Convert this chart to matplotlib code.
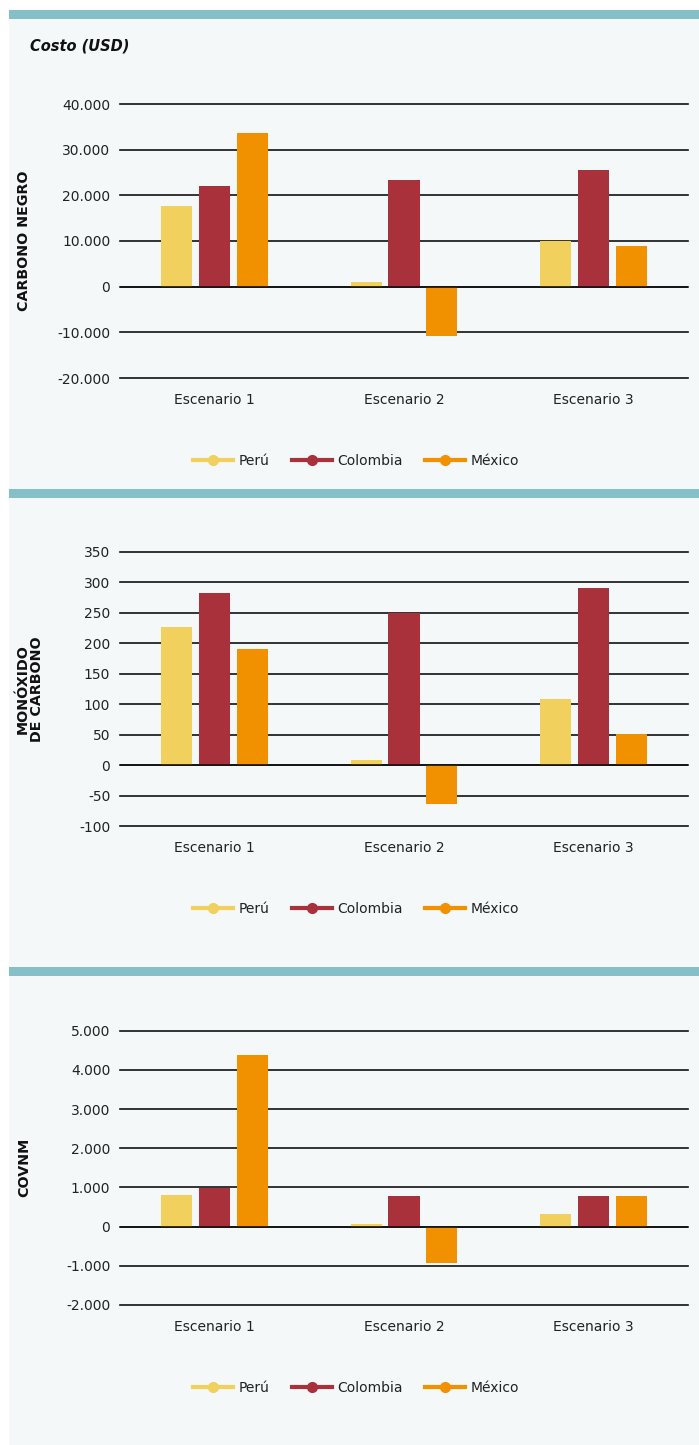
import numpy as np
import matplotlib.pyplot as plt
from matplotlib.lines import Line2D
from matplotlib.patches import Rectangle

escenarios = ["Escenario 1", "Escenario 2", "Escenario 3"]
paises = ["Perú", "Colombia", "México"]
colores = ["#f2d05e", "#a8313c", "#f29100"]

# valores por pais (Perú, Colombia, México) para cada escenario
carbono_negro = [[17700, 1100, 9900],
                 [22100, 23400, 25600],
                 [33700, -10700, 8800]]
monoxido = [[226, 8, 108],
            [282, 249, 290],
            [190, -64, 51]]
covnm = [[810, 70, 320],
         [995, 780, 780],
         [4380, -920, 780]]

paneles = [
    ("CARBONO NEGRO", carbono_negro, [-20000, -10000, 0, 10000, 20000, 30000, 40000]),
    ("MONÓXIDO\nDE CARBONO", monoxido, [-100, -50, 0, 50, 100, 150, 200, 250, 300, 350]),
    ("COVNM", covnm, [-2000, -1000, 0, 1000, 2000, 3000, 4000, 5000]),
]

W, H = 699, 1445
fig = plt.figure(figsize=(W / 100, H / 100), dpi=100)
fig.patch.set_facecolor("white")
bg = "#f4f8f9"
teal = "#85bfc8"
fig.patches.append(Rectangle((9 / W, 0), 1 - 9 / W, 1 - 10 / H, transform=fig.transFigure,
                             facecolor=bg, edgecolor="none", zorder=-10))
for top in [10, 489, 967]:
    fig.patches.append(Rectangle((9 / W, 1 - (top + 8.5) / H), 1 - 9 / W, 8.5 / H,
                                 transform=fig.transFigure, facecolor=teal,
                                 edgecolor="none", zorder=-5))

fig.text(30 / W, 1 - 46 / H, "Costo (USD)", fontsize=10.5, fontweight="bold",
         fontstyle="italic", va="center", ha="left", color="#111111")

# (top px, bottom px, ylabel x px, legend y px)
geom = [(104, 378, 24, 461), (551.7, 826, 30, 909), (1030.7, 1305, 24, 1388)]

def fmt(v):
    return f"{int(v):,}".replace(",", ".")

x = np.arange(len(escenarios))
for (label, data, ticks), (ytop, ybot, lx, ly) in zip(paneles, geom):
    ax = fig.add_axes([120 / W, 1 - ybot / H, 568 / W, (ybot - ytop) / H])
    ax.set_facecolor("none")
    for j, (pais, col) in enumerate(zip(paises, colores)):
        ax.bar(x + (j - 1) * 0.2, data[j], width=0.165, color=col, zorder=2)
    ax.axhline(0, color="#111111", linewidth=1.2, zorder=3)
    ax.set_xlim(-0.5, 2.5)
    ax.set_ylim(ticks[0], ticks[-1])
    ax.set_yticks(ticks)
    ax.set_yticklabels([fmt(t) for t in ticks])
    ax.set_xticks(x)
    ax.set_xticklabels(escenarios)
    ax.tick_params(length=0, labelsize=10, colors="#222222")
    ax.tick_params(axis="y", pad=7)
    ax.tick_params(axis="x", pad=11)
    ax.yaxis.grid(True, color="#111111", linewidth=1.2, zorder=1)
    for gl in ax.get_ygridlines():
        gl.set_clip_on(False)
    for s in ax.spines.values():
        s.set_visible(False)
    ax.set_axisbelow(True)
    fig.text(lx / W, 1 - (ytop + ybot) / 2 / H, label, rotation=90, fontsize=10.3,
             fontweight="bold", ha="center", va="center", color="#111111",
             multialignment="center", linespacing=1.0)
    handles = [Line2D([0], [0], color=c, lw=3, marker="o", markersize=7) for c in colores]
    fig.legend(handles, paises, loc="center", bbox_to_anchor=(356 / W, 1 - ly / H),
               ncol=3, frameon=False, fontsize=10, handlelength=2.9,
               columnspacing=1.6, handletextpad=0.4, labelcolor="#222222")

fig.savefig("out.png", dpi=100)
